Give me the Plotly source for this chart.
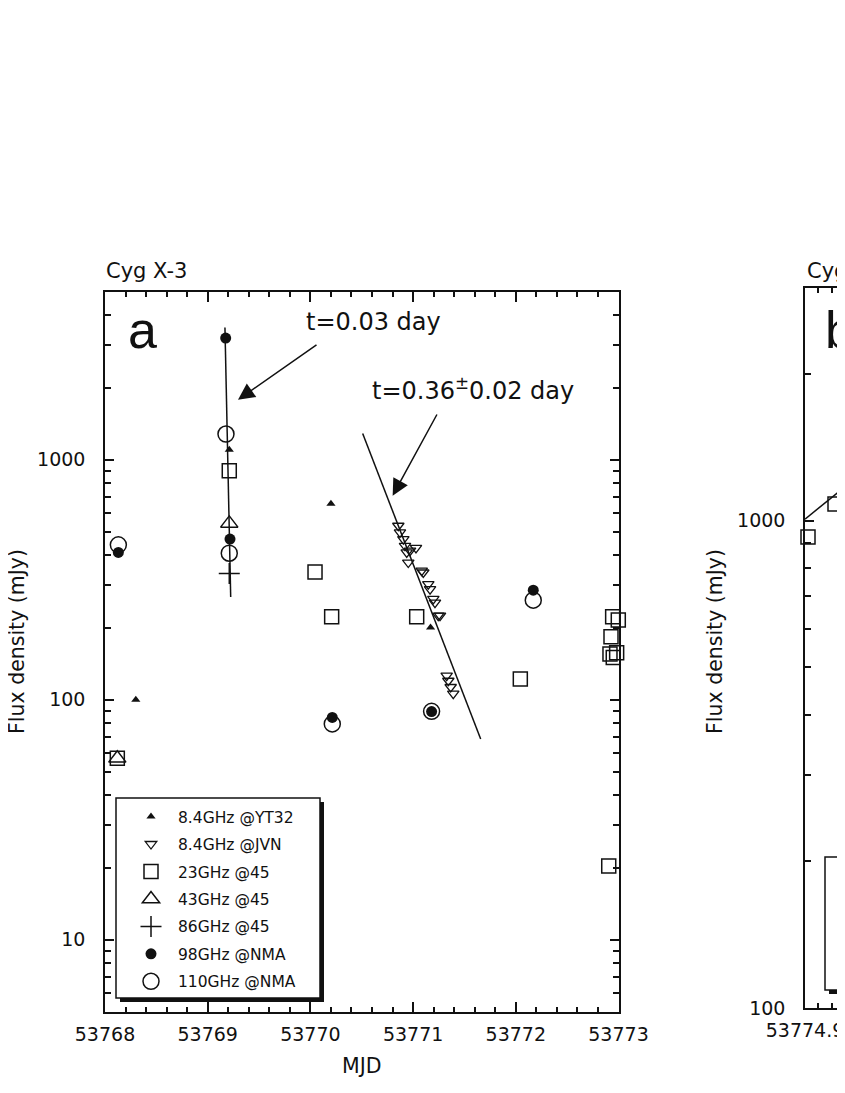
import math
import plotly.graph_objects as go

# ---- panel a: Cyg X-3 flux densities (MJD, mJy) ----
yt32_mjd = [53768.30, 53769.21, 53770.20, 53771.17]
yt32_flux = [100, 1100, 656, 200]

jvn_mjd = [53770.856, 53770.872, 53770.905, 53770.921, 53770.938, 53770.953, 53770.970,
           53771.028, 53771.084, 53771.099, 53771.148, 53771.165, 53771.197, 53771.213,
           53771.245, 53771.262, 53771.327, 53771.343, 53771.366, 53771.391]
jvn_flux = [531, 498, 467, 438, 411, 373, 418,
            429, 345, 339, 303, 289, 263, 254,
            224, 224, 126, 120, 113, 106]

k23_mjd = [53768.12, 53769.21, 53770.045, 53770.207, 53771.035, 53772.044,
           53772.943, 53772.998, 53772.927, 53772.917, 53772.982, 53772.949, 53772.905]
k23_flux = [57, 900, 341, 222, 222, 122,
            222, 215, 183, 155, 157, 150, 20.3]

q43_mjd = [53768.12, 53769.21]
q43_flux = [57, 543]

w86_mjd = [53769.21]
w86_flux = [336]

nma98_mjd = [53768.13, 53769.175, 53769.217, 53770.213, 53771.18, 53772.17]
nma98_flux = [411, 3213, 467, 84.4, 89.3, 286]

nma110_mjd = [53768.13, 53769.178, 53769.21, 53770.213, 53771.18, 53772.17]
nma110_flux = [442, 1280, 408, 79.3, 89.5, 260]

# decay fits
fast_fit_mjd = [53769.168, 53769.224]
fast_fit_flux = [3556, 268]
slow_fit_mjd = [53770.509, 53771.658]
slow_fit_flux = [1287, 68.6]

# ---- panel b (only its left edge is inside the page) ----
b_k23_mjd = [53774.9045, 53774.945]
b_k23_flux = [925, 1081]
b_fit_mjd = [53774.90, 53774.96]
b_fit_flux = [1007, 1173]

a_xticks = [53768, 53769, 53770, 53771, 53772, 53773]
a_yticks = [10, 100, 1000]
b_xticks = [53774.9]
b_yticks = [100, 1000]

# page body has an 8px margin, so the figure is shifted by that much
OFF = 8
W, H = 845 - OFF, 1093 - OFF
INK = '#111111'
FONT = 'DejaVu Sans'


def px(x):
    return (x - OFF) / W


def py(y):
    return 1 - (y - OFF) / H


def log_minors(lo, hi):
    out = []
    d = 1
    while d < hi:
        for k in range(2, 10):
            v = k * d
            if lo < v < hi:
                out.append(v)
        d *= 10
    return out


fig = go.Figure()

series = [
    ('8.4GHz @YT32', yt32_mjd, yt32_flux, dict(symbol='triangle-up', size=8, color=INK)),
    ('8.4GHz @JVN', jvn_mjd, jvn_flux, dict(symbol='triangle-down-open', size=10, color=INK, line=dict(width=1.3, color=INK))),
    ('23GHz @45', k23_mjd, k23_flux, dict(symbol='square-open', size=14, color=INK, line=dict(width=1.5, color=INK))),
    ('43GHz @45', q43_mjd, q43_flux, dict(symbol='triangle-up-open', size=15, color=INK, line=dict(width=1.5, color=INK))),
    ('86GHz @45', w86_mjd, w86_flux, dict(symbol='cross-thin-open', size=15, color=INK, line=dict(width=1.5, color=INK))),
    ('98GHz @NMA', nma98_mjd, nma98_flux, dict(symbol='circle', size=11, color=INK)),
    ('110GHz @NMA', nma110_mjd, nma110_flux, dict(symbol='circle-open', size=16, color=INK, line=dict(width=1.5, color=INK))),
]

# fit lines
fig.add_trace(go.Scatter(x=fast_fit_mjd, y=fast_fit_flux, mode='lines', line=dict(color=INK, width=1.5),
                         showlegend=False, hoverinfo='skip', cliponaxis=False))
fig.add_trace(go.Scatter(x=slow_fit_mjd, y=slow_fit_flux, mode='lines', line=dict(color=INK, width=1.5),
                         showlegend=False, hoverinfo='skip', cliponaxis=False))

for name, xs, ys, mk in series:
    fig.add_trace(go.Scatter(x=xs, y=ys, mode='markers', name=name, marker=mk,
                             legendgroup=name, cliponaxis=False))

# panel b traces
fig.add_trace(go.Scatter(x=b_fit_mjd, y=b_fit_flux, mode='lines', line=dict(color=INK, width=1.5),
                         xaxis='x2', yaxis='y2', showlegend=False, cliponaxis=False))
fig.add_trace(go.Scatter(x=b_k23_mjd, y=b_k23_flux, mode='markers', xaxis='x2', yaxis='y2', showlegend=False,
                         marker=dict(symbol='square-open', size=14, color=INK, line=dict(width=1.5, color=INK)),
                         cliponaxis=False))

common = dict(showline=True, linecolor=INK, linewidth=1.5, mirror='ticks', ticks='inside',
              tickcolor=INK, tickwidth=1.5, showgrid=False, zeroline=False, automargin=False,
              tickfont=dict(family=FONT, size=19, color=INK))

fig.update_layout(
    width=W, height=H, margin=dict(l=0, r=0, t=0, b=0, autoexpand=False),
    paper_bgcolor='white', plot_bgcolor='white',
    font=dict(family=FONT, color=INK),
    xaxis=dict(common, domain=[px(105), px(618.5)], range=[53768, 53773], anchor='y',
               tickvals=a_xticks, ticktext=[str(v) for v in a_xticks], ticklen=10,
               ticklabelstandoff=4,
               minor=dict(ticks='inside', ticklen=5, tickwidth=1.5, tickcolor=INK, dtick=0.2, tick0=53768)),
    yaxis=dict(common, type='log', domain=[py(1012), py(292)], range=[math.log10(5), math.log10(5000)],
               anchor='x', tickvals=a_yticks, ticktext=[str(v) for v in a_yticks], ticklen=9,
               ticklabelstandoff=14,
               minor=dict(ticks='inside', ticklen=6, tickwidth=1.5, tickcolor=INK,
                          tickmode='array', tickvals=log_minors(5, 5000))),
    xaxis2=dict(common, domain=[px(805), 1], range=[53774.9, 53774.96], anchor='y2',
                tickvals=b_xticks, ticktext=['53774.9'], ticklen=10, ticklabelstandoff=4,
                minor=dict(ticks='inside', ticklen=5, tickwidth=1.5, tickcolor=INK, dtick=0.02, tick0=53774.9)),
    yaxis2=dict(common, type='log', domain=[py(1008), py(288)], range=[2, math.log10(3000)],
                anchor='x2', mirror=False, tickvals=b_yticks, ticktext=[str(v) for v in b_yticks], ticklen=9,
                ticklabelstandoff=14,
                minor=dict(ticks='inside', ticklen=6, tickwidth=1.5, tickcolor=INK,
                           tickmode='array', tickvals=log_minors(100, 3000))),
    showlegend=True,
    legend=dict(x=px(124), y=py(800), xanchor='left', yanchor='top', bgcolor='rgba(0,0,0,0)',
                borderwidth=0, itemwidth=44, tracegroupgap=4.3,
                font=dict(family=FONT, size=15.5, color=INK)),
)

# legend boxes with drop shadow
fig.add_shape(type='rect', xref='paper', yref='paper', x0=px(120), x1=px(324), y0=py(1002), y1=py(802),
              fillcolor=INK, line=dict(width=0), layer='above')
fig.add_shape(type='rect', xref='paper', yref='paper', x0=px(116), x1=px(320), y0=py(998), y1=py(798),
              fillcolor='white', line=dict(width=1.5, color=INK), layer='above')
fig.add_shape(type='rect', xref='paper', yref='paper', x0=px(829), x1=px(900), y0=py(994), y1=py(861),
              fillcolor=INK, line=dict(width=0), layer='above')
fig.add_shape(type='rect', xref='paper', yref='paper', x0=px(825), x1=px(900), y0=py(990), y1=py(857),
              fillcolor='white', line=dict(width=1.5, color=INK), layer='above')


def label(text, x, y, size, xa='center', ya='middle', angle=0, family=FONT):
    return dict(text=text, x=px(x), y=py(y), xref='paper', yref='paper', xanchor=xa, yanchor=ya,
                textangle=angle, showarrow=False, font=dict(family=family, size=size, color=INK))


ann = [
    label('Cyg X-3', 104, 285, 21, xa='left', ya='bottom'),
    label('Cyg X-3', 805, 285, 21, xa='left', ya='bottom'),
    label('a', 126, 330, 52, xa='left', family='Liberation Sans'),
    label('b', 823, 330, 52, xa='left', family='Liberation Sans'),
    label('Flux density (mJy)', 17, 642, 20.5, angle=-90),
    label('Flux density (mJy)', 715, 642, 20.5, angle=-90),
    label('MJD', 362, 1066, 20.5),
    label('t=0.03 day', 373, 322, 24),
    label('t=0.36<sup>±</sup>0.02 day', 473, 389, 24),
]
# arrows pointing at the decay fits
ann.append(dict(text='', x=53769.295, y=math.log10(1778), xref='x', yref='y',
                ax=53770.074, ay=math.log10(3043), axref='x', ayref='y',
                showarrow=True, arrowhead=2, arrowsize=2.2, arrowwidth=1.5, arrowcolor=INK))
ann.append(dict(text='', x=53770.801, y=math.log10(708), xref='x', yref='y',
                ax=53771.24, ay=math.log10(1566), axref='x', ayref='y',
                showarrow=True, arrowhead=2, arrowsize=2.2, arrowwidth=1.5, arrowcolor=INK))
fig.update_layout(annotations=ann)

fig.write_html("out.html")
